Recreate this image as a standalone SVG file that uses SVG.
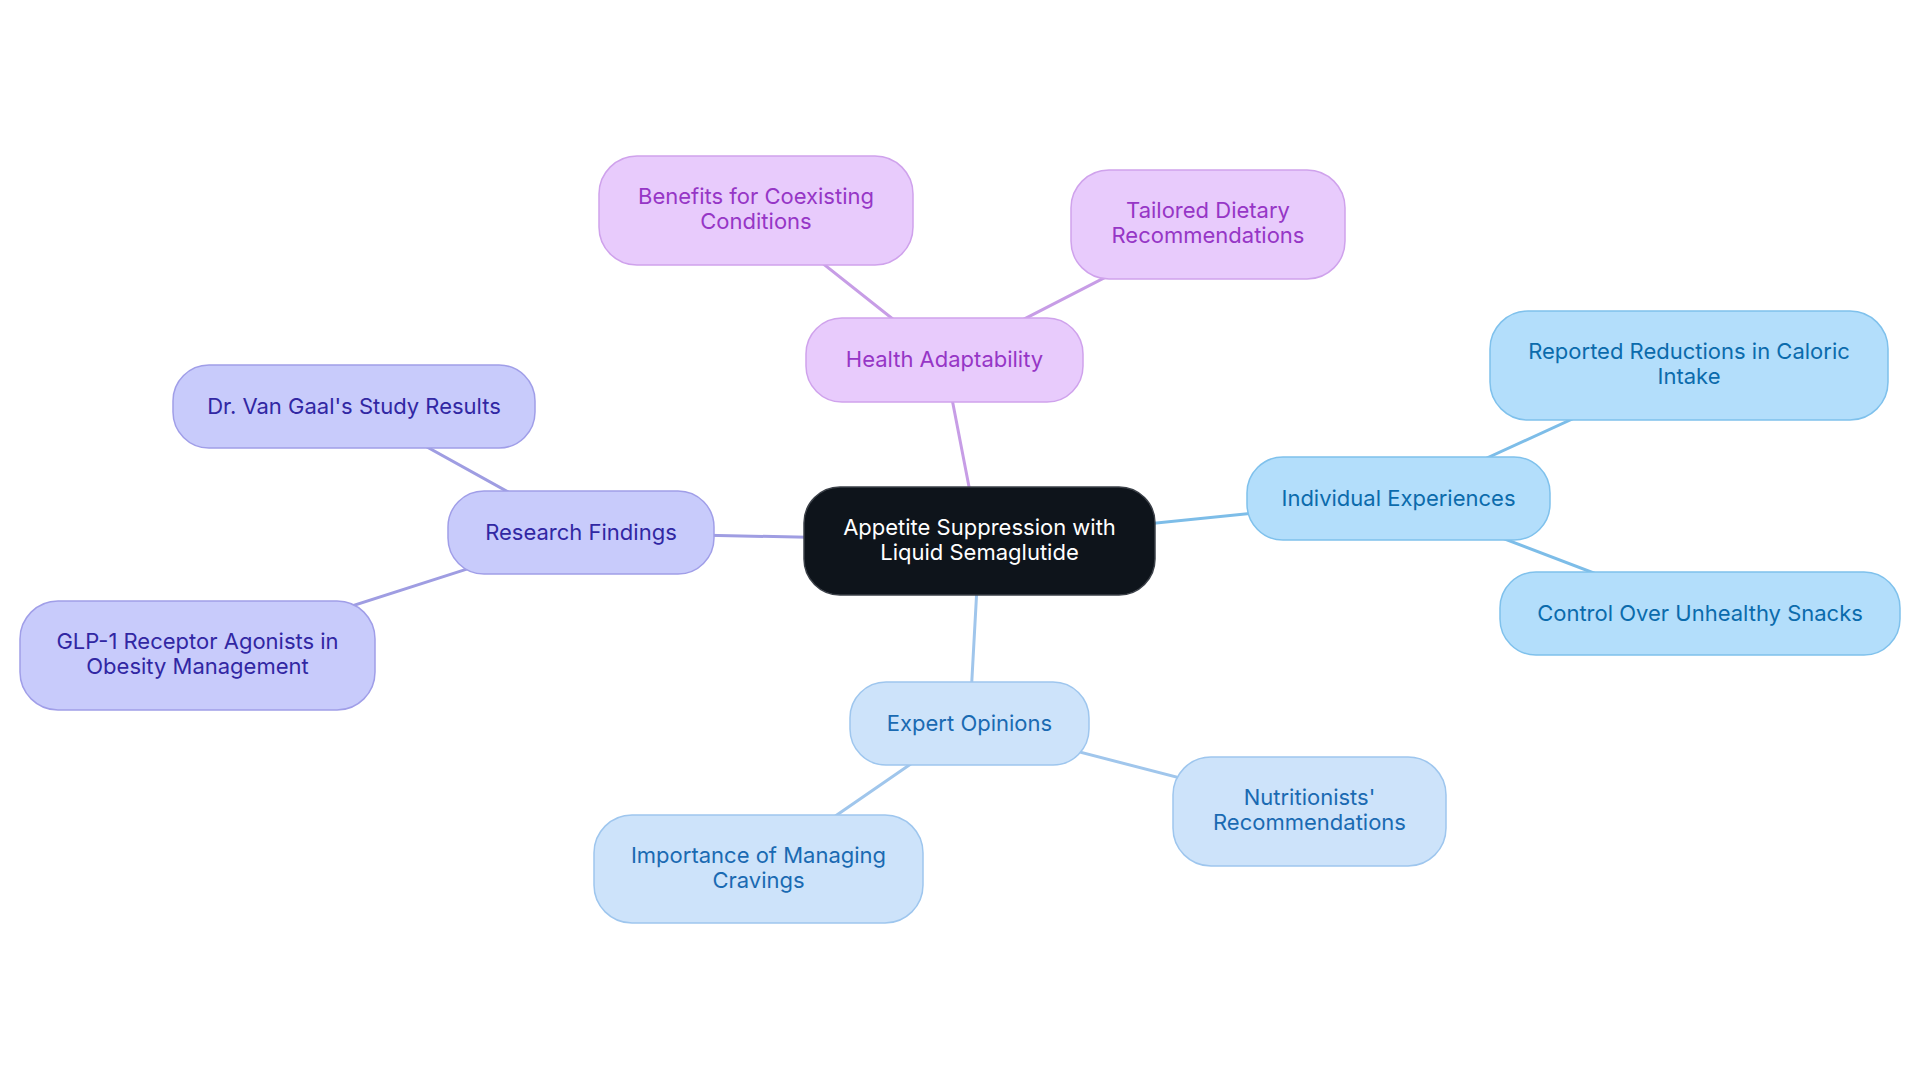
<svg xmlns="http://www.w3.org/2000/svg" width="1920" height="1083" viewBox="0 0 1920 1083">
<style>
text{font-family:Inter,"Noto Sans","Liberation Sans",sans-serif;font-size:22px;text-anchor:middle}
.edge{stroke-width:3;fill:none;stroke-linecap:round}
.ep{stroke:#C79DE6}.er{stroke:#9F9DE2}.ei{stroke:#7DBDE8}.ee{stroke:#A0C6EC}
.root rect{fill:#0E141B;stroke:#3B4048;stroke-width:1.5}
.root text{fill:#FFFFFF}
.np rect{fill:#E8CBFC;stroke:#CFA2EC;stroke-width:1.5}
.np text{fill:#9636C6}
.nr rect{fill:#C8CBFB;stroke:#A09EE8;stroke-width:1.5}
.nr text{fill:#3127A3}
.ni rect{fill:#B3DEFB;stroke:#7FC1EC;stroke-width:1.5}
.ni text{fill:#0B6BAC}
.ne rect{fill:#CDE3FA;stroke:#9EC6EE;stroke-width:1.5}
.ne text{fill:#1A6AB2}
</style>
<rect x="0" y="0" width="1920" height="1083" fill="#FFFFFF"/>
<g id="connectors">
<line class="edge ep" x1="979.5" y1="541" x2="944.5" y2="360"/>
<line class="edge ep" x1="944.5" y1="360" x2="756" y2="210.5"/>
<line class="edge ep" x1="944.5" y1="360" x2="1208" y2="224.5"/>
<line class="edge er" x1="979.5" y1="541" x2="581" y2="532.5"/>
<line class="edge er" x1="581" y1="532.5" x2="354" y2="406.5"/>
<line class="edge er" x1="581" y1="532.5" x2="197.5" y2="655.5"/>
<line class="edge ei" x1="979.5" y1="541" x2="1398.5" y2="498.5"/>
<line class="edge ei" x1="1398.5" y1="498.5" x2="1689" y2="365.5"/>
<line class="edge ei" x1="1398.5" y1="498.5" x2="1700" y2="613.5"/>
<line class="edge ee" x1="979.5" y1="541" x2="969.5" y2="723.5"/>
<line class="edge ee" x1="969.5" y1="723.5" x2="758.5" y2="869"/>
<line class="edge ee" x1="969.5" y1="723.5" x2="1309.5" y2="811.5"/>
</g>
<g id="root" class="root">
<rect x="804" y="487" width="351" height="108" rx="36"/>
<text x="979.5" y="535">Appetite Suppression with</text>
<text x="979.5" y="560">Liquid Semaglutide</text>
</g>
<g id="health" class="np">
<rect x="806" y="318" width="277" height="84" rx="36"/>
<text x="944.5" y="367">Health Adaptability</text>
</g>
<g id="benefits" class="np">
<rect x="599" y="156" width="314" height="109" rx="38"/>
<text x="756" y="204">Benefits for Coexisting</text>
<text x="756" y="229">Conditions</text>
</g>
<g id="tailored" class="np">
<rect x="1071" y="170" width="274" height="109" rx="38"/>
<text x="1208" y="218">Tailored Dietary</text>
<text x="1208" y="243">Recommendations</text>
</g>
<g id="research" class="nr">
<rect x="448" y="491" width="266" height="83" rx="36"/>
<text x="581" y="540">Research Findings</text>
</g>
<g id="vangaal" class="nr">
<rect x="173" y="365" width="362" height="83" rx="36"/>
<text x="354" y="414">Dr. Van Gaal's Study Results</text>
</g>
<g id="glp1" class="nr">
<rect x="20" y="601" width="355" height="109" rx="38"/>
<text x="197.5" y="649">GLP-1 Receptor Agonists in</text>
<text x="197.5" y="674">Obesity Management</text>
</g>
<g id="individual" class="ni">
<rect x="1247" y="457" width="303" height="83" rx="36"/>
<text x="1398.5" y="506">Individual Experiences</text>
</g>
<g id="reported" class="ni">
<rect x="1490" y="311" width="398" height="109" rx="38"/>
<text x="1689" y="359">Reported Reductions in Caloric</text>
<text x="1689" y="384">Intake</text>
</g>
<g id="control" class="ni">
<rect x="1500" y="572" width="400" height="83" rx="36"/>
<text x="1700" y="621">Control Over Unhealthy Snacks</text>
</g>
<g id="expert" class="ne">
<rect x="850" y="682" width="239" height="83" rx="36"/>
<text x="969.5" y="731">Expert Opinions</text>
</g>
<g id="importance" class="ne">
<rect x="594" y="815" width="329" height="108" rx="38"/>
<text x="758.5" y="863">Importance of Managing</text>
<text x="758.5" y="888">Cravings</text>
</g>
<g id="nutritionists" class="ne">
<rect x="1173" y="757" width="273" height="109" rx="38"/>
<text x="1309.5" y="805">Nutritionists'</text>
<text x="1309.5" y="830">Recommendations</text>
</g>
</svg>
